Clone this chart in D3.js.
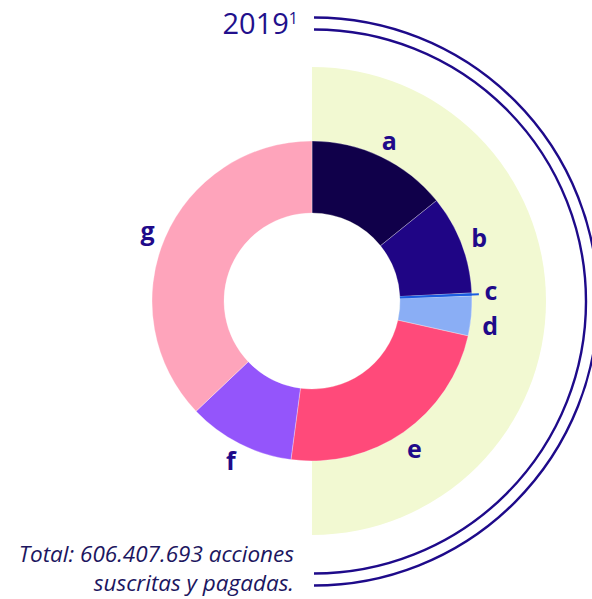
<!DOCTYPE html>
<html lang="es">
<head>
<meta charset="UTF-8">
<title>Acciones 2019</title>
<script src="https://cdn.jsdelivr.net/npm/d3@7"></script>
<style>
  body { margin: 0; background: #fff; }
  svg { display: block; }
  .lbl { font: bold 25px "Open Sans", sans-serif; fill: #1f0a8a; }
  .title { font: 400 29px "Open Sans", sans-serif; fill: #22108c; }
  .note { font: italic 22.5px "Open Sans", sans-serif; fill: #1c1660; }
</style>
</head>
<body>
<script>
// shares by holder, % of total
const categories = ["a", "b", "c", "d", "e", "f", "g"];
const values = [14.2, 10.0, 0.3, 4.0, 23.6, 10.8, 37.1];
const colors = ["#10004a", "#1f0585", "#1a5ce0", "#8aaef5", "#ff4a7a", "#9455fb", "#fea4bb"];
const year = "2019";
const footnote = ["Total: 606.407.693 acciones", "suscritas y pagadas."];

const width = 592, height = 599;
const cx = 312, cy = 301;

const svg = d3.select("body").append("svg")
  .attr("width", width)
  .attr("height", height);

// light half disc behind the donut
svg.append("path")
  .attr("transform", "translate(" + cx + "," + cy + ")")
  .attr("d", d3.arc()({innerRadius: 0, outerRadius: 234, startAngle: 0, endAngle: Math.PI}))
  .attr("fill", "#f2f9d2");

// the two framing arcs
const frame = svg.append("g").attr("transform", "translate(" + (cx + 2) + "," + (cy + 0.5) + ")");
[272, 284].forEach(function(r) {
  frame.append("path")
    .attr("d", d3.arc()({innerRadius: r, outerRadius: r, startAngle: 0, endAngle: Math.PI}))
    .attr("fill", "none")
    .attr("stroke", "#1e0a8a")
    .attr("stroke-width", 2.4);
});

const data = categories.map(function(c, i) { return {key: c, value: values[i], color: colors[i]}; });

const pie = d3.pie().value(function(d) { return d.value; }).sort(null);
const arcs = pie(data);

const arc = d3.arc().innerRadius(88).outerRadius(160);

const g = svg.append("g").attr("transform", "translate(" + cx + "," + cy + ")");

// white hole
g.append("circle").attr("r", 88).attr("fill", "#fff");

g.selectAll("path.slice")
  .data(arcs)
  .enter().append("path")
  .attr("class", "slice")
  .attr("d", arc)
  .attr("fill", function(d) { return d.data.color; })
  .attr("stroke", "#fff")
  .attr("stroke-opacity", 0.5)
  .attr("stroke-width", 0.6);

// leader for the tiny slice c
const cArc = arcs[categories.indexOf("c")];
const ca = (cArc.startAngle + cArc.endAngle) / 2;
const leadEnd = 167;
g.append("line")
  .attr("x1", 88 * Math.sin(ca)).attr("y1", -88 * Math.cos(ca))
  .attr("x2", leadEnd * Math.sin(ca)).attr("y2", -leadEnd * Math.cos(ca))
  .attr("stroke", cArc.data.color)
  .attr("stroke-width", 2);

// labels
const labelR = 179;
function mid(d) { return (d.startAngle + d.endAngle) / 2; }
g.selectAll("text.lbl")
  .data(arcs)
  .enter().append("text")
  .attr("class", "lbl")
  .attr("text-anchor", "middle")
  .attr("dy", function(d) { return d.data.key === "c" ? "0.22em" : "0.4em"; })
  .attr("x", function(d) {
    return d.data.key === "c" ? leadEnd * Math.sin(ca) + 12 : labelR * Math.sin(mid(d));
  })
  .attr("y", function(d) {
    return d.data.key === "c" ? -leadEnd * Math.cos(ca) : -labelR * Math.cos(mid(d)) + (d.data.key === "d" ? 7 : 0);
  })
  .text(function(d) { return d.data.key; });

// title
const t = svg.append("text")
  .attr("class", "title")
  .attr("x", 298)
  .attr("y", 34)
  .attr("text-anchor", "end");
t.append("tspan").text(year);
t.append("tspan").attr("font-size", 16).attr("dy", -10).text("1");

// footnote
svg.selectAll("text.note")
  .data(footnote)
  .enter().append("text")
  .attr("class", "note")
  .attr("x", 294)
  .attr("y", function(d, i) { return 562 + i * 29; })
  .attr("text-anchor", "end")
  .text(function(d) { return d; });
</script>
</body>
</html>
